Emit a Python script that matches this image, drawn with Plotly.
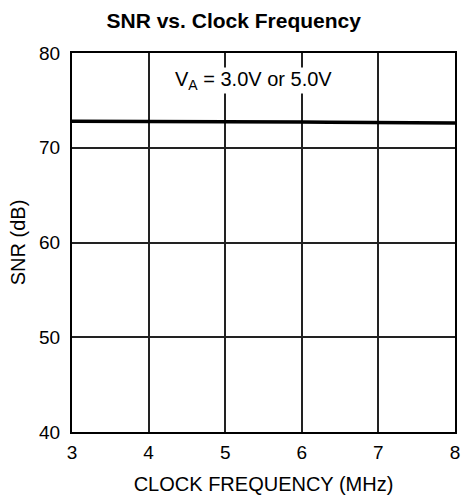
import plotly.graph_objects as go

clock_mhz = [3.0, 4.0, 5.0, 5.55, 6.0, 6.35, 7.0, 7.85, 8.0]
snr_db = [72.8, 72.8, 72.78, 72.72, 72.72, 72.68, 72.68, 72.66, 72.62]

x_ticks = [3, 4, 5, 6, 7, 8]
y_ticks = [40, 50, 60, 70, 80]

FONT = "Liberation Sans, Arial, Helvetica"

fig = go.Figure()
fig.add_trace(go.Scatter(x=clock_mhz, y=snr_db, mode="lines",
                         line=dict(color="black", width=3.5), showlegend=False,
                         hoverinfo="skip"))

fig.add_annotation(x=5.37, y=77.1, xref="x", yref="y",
                   text="V<sub>A</sub> = 3.0V or 5.0V", showarrow=False,
                   bgcolor="white", borderpad=0,
                   font=dict(family=FONT, size=20, color="black"))

fig.update_layout(
    width=461, height=500,
    margin=dict(l=72, r=6, t=53, b=68, autoexpand=False),
    paper_bgcolor="white", plot_bgcolor="white",
    font=dict(family=FONT, size=19, color="black"),
    title=dict(text="<b>SNR vs. Clock Frequency</b>", x=0.507, xanchor="center",
               y=0.958, yanchor="middle", font=dict(size=21)),
    xaxis=dict(range=[2.9999, 8.0001], tickvals=x_ticks, showgrid=True,
               gridcolor="#222", gridwidth=1.5, showline=True, linecolor="black",
               linewidth=2, mirror=True, zeroline=False, ticks="",
               automargin=False, ticklabelstandoff=2, tickfont=dict(size=19),
               title=dict(text="CLOCK FREQUENCY (MHz)", standoff=15,
                          font=dict(size=20))),
    yaxis=dict(range=[39.999, 80.001], tickvals=y_ticks, showgrid=True,
               gridcolor="#222", gridwidth=1.5, showline=True, linecolor="black",
               linewidth=2, mirror=True, zeroline=False, ticks="",
               automargin=False, ticklabelstandoff=6, tickfont=dict(size=19),
               title=dict(text="SNR (dB)", standoff=8, font=dict(size=20))),
)

fig.write_html("out.html", config={"displayModeBar": False},
               post_script="document.body.style.margin='0';"
                           "document.body.style.overflow='hidden';")
